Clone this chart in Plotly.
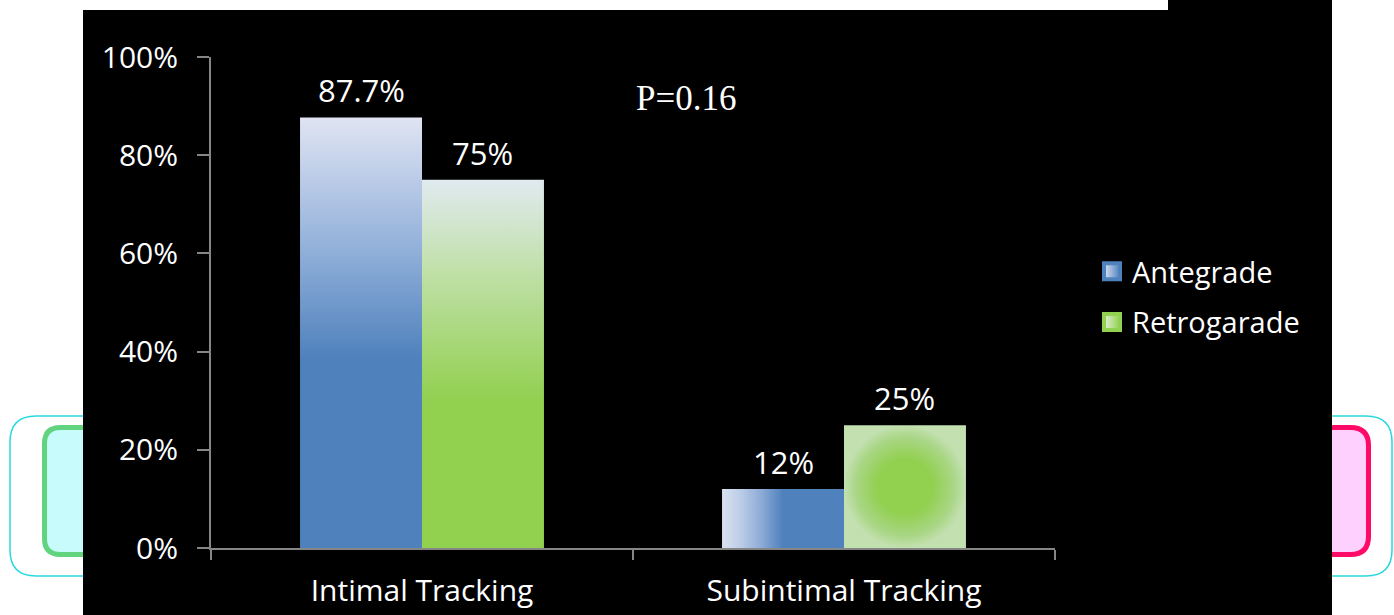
import plotly.graph_objects as go

# Data
categories = ["Intimal Tracking", "Subintimal Tracking"]
antegrade = [87.7, 12]
retrograde = [75, 25]
series_names = ["Antegrade", "Retrogarade"]
y_tick_vals = [0, 20, 40, 60, 80, 100]
y_tick_labels = ["0%", "20%", "40%", "60%", "80%", "100%"]
p_value_text = "P=0.16"

W, H = 1394, 615
FONT = "Open Sans"
AXIS_GREY = "#868686"
BLUE = "#4f81bd"
GREEN = "#92d050"

BAR_W = 0.289  # bar width in category units


def px(x):
    return x / W


def py(y):
    return 1 - y / H


def rounded_path(x0, y0, x1, y1, r):
    pts = [
        ("M", [(x0 + r, y0)]),
        ("L", [(x1 - r, y0)]),
        ("Q", [(x1, y0), (x1, y0 + r)]),
        ("L", [(x1, y1 - r)]),
        ("Q", [(x1, y1), (x1 - r, y1)]),
        ("L", [(x0 + r, y1)]),
        ("Q", [(x0, y1), (x0, y1 - r)]),
        ("L", [(x0, y0 + r)]),
        ("Q", [(x0, y0), (x0 + r, y0)]),
    ]
    out = ""
    for cmd, ps in pts:
        out += cmd + " " + " ".join(f"{px(a):.5f},{py(b):.5f}" for a, b in ps) + " "
    return out + "Z"


fig = go.Figure()

# gradient styles for each bar (series, category)
grad = {
    (0, 0): dict(type="vertical", colorscale=[[0, BLUE], [0.44, BLUE], [0.7, "#93b1da"], [1, "#e0e4f3"]]),
    (1, 0): dict(type="vertical", colorscale=[[0, GREEN], [0.4, GREEN], [0.75, "#c0e0a8"], [1, "#e1eaf0"]]),
    (0, 1): dict(type="horizontal", colorscale=[[0, "#dae2f1"], [0.15, "#bccde8"], [0.32, "#8eabd6"],
                                                [0.5, BLUE], [1, BLUE]]),
    (1, 1): dict(type="radial", colorscale=[[0, GREEN], [0.45, GREEN], [0.8, "#a9d685"], [1, "#c3e0b0"]]),
}

annotations = []
for s, vals in enumerate([antegrade, retrograde]):
    for c, v in enumerate(vals):
        left = c - BAR_W if s == 0 else c
        right = left + BAR_W
        fig.add_trace(go.Scatter(
            x=[left, left, right, right, left],
            y=[0, v, v, 0, 0],
            mode="lines", line=dict(width=0),
            fill="toself", fillgradient=grad[(s, c)],
            hoverinfo="skip", showlegend=False,
        ))
        # value label above the bar
        annotations.append(dict(
            x=(left + right) / 2, y=v, xref="x", yref="y",
            text=f"{v:g}%", showarrow=False,
            xanchor="center", yanchor="bottom", yshift=4,
            font=dict(family=FONT, size=31, color="white"),
        ))

# legend entries
legend_styles = [("#dce4f2", BLUE), ("#e2efd8", GREEN)]
for i, name in enumerate(series_names):
    light, dark = legend_styles[i]
    fig.add_trace(go.Scatter(
        x=[None], y=[None], mode="markers", name=name,
        legendgroup=name,
        marker=dict(symbol="square", size=16, color=light,
                    gradient=dict(type="horizontal", color=dark),
                    line=dict(color=dark, width=4)),
    ))

shapes = [
    # outer cyan outline box
    dict(type="path", path=rounded_path(10, 416, 1392, 576, 26),
         line=dict(color="#2ad8e0", width=1.5), fillcolor="white"),
    # left green box
    dict(type="path", path=rounded_path(44.5, 427.5, 300, 554.5, 16),
         line=dict(color="#62d37e", width=5), fillcolor="#c8fcfc"),
    # right pink box
    dict(type="path", path=rounded_path(1100, 427.5, 1368.5, 554.5, 18),
         line=dict(color="#ff0a66", width=5), fillcolor="#fdd0fd"),
    # black panels
    dict(type="rect", x0=px(83), x1=px(1332), y0=0, y1=py(10),
         line=dict(width=0), fillcolor="black"),
    dict(type="rect", x0=px(1168), x1=px(1332), y0=py(10), y1=1,
         line=dict(width=0), fillcolor="black"),
]
for sh in shapes:
    sh.update(xref="paper", yref="paper", layer="below")

annotations.append(dict(
    text=p_value_text, xref="paper", yref="paper",
    x=px(686), y=py(98), xanchor="center", yanchor="middle",
    showarrow=False,
    font=dict(family="Liberation Serif", size=35, color="white"),
))

fig.update_layout(
    template="none",
    width=W, height=H,
    margin=dict(l=0, r=0, t=0, b=0, pad=0, autoexpand=False),
    paper_bgcolor="white",
    plot_bgcolor="rgba(0,0,0,0)",
    shapes=shapes,
    annotations=annotations,
    showlegend=True,
    legend=dict(
        x=px(1092), y=py(246), xanchor="left", yanchor="top",
        bgcolor="rgba(0,0,0,0)", borderwidth=0,
        font=dict(family=FONT, size=29, color="white"),
        tracegroupgap=10,
        itemclick=False,
    ),
    xaxis=dict(
        domain=[px(211), px(1055)],
        range=[-0.5, len(categories) - 0.5],
        automargin=False,
        tickmode="array", tickvals=list(range(len(categories))), ticktext=categories,
        ticks="", showgrid=False, zeroline=False,
        showline=True, linecolor=AXIS_GREY, linewidth=2,
        tickfont=dict(family=FONT, size=30, color="white"),
        ticklabelstandoff=15,
        minor=dict(tickmode="array",
                   tickvals=[i - 0.5 for i in range(len(categories) + 1)],
                   ticks="outside", ticklen=10, tickwidth=2, tickcolor=AXIS_GREY,
                   showgrid=False),
        fixedrange=True,
    ),
    yaxis=dict(
        domain=[py(548), py(57)],
        range=[0, 100],
        automargin=False,
        tickmode="array", tickvals=y_tick_vals, ticktext=y_tick_labels,
        ticks="outside", ticklen=12, tickwidth=2, tickcolor=AXIS_GREY,
        showgrid=False, zeroline=False,
        showline=True, linecolor=AXIS_GREY, linewidth=2,
        tickfont=dict(family=FONT, size=30, color="white"),
        ticklabelstandoff=13,
        fixedrange=True,
    ),
)

fig.write_html("out.html")
